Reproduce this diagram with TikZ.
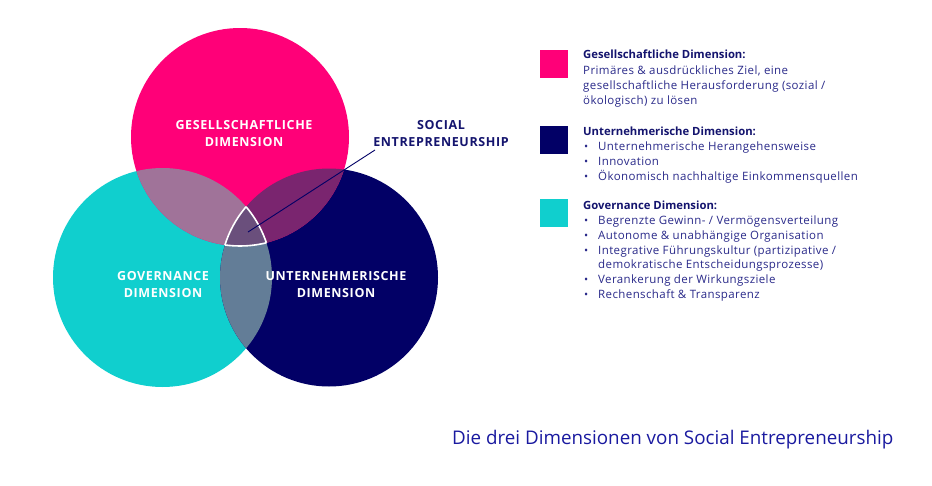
\documentclass[tikz,border=0pt]{standalone}
\usepackage{fontspec}
\setmainfont{Open Sans}
\definecolor{cpink}{HTML}{FF0078}
\definecolor{cnavy}{HTML}{020066}
\definecolor{ccyan}{HTML}{10CFCE}
\definecolor{cPC}{HTML}{A07399}
\definecolor{cPN}{HTML}{7A256F}
\definecolor{cCN}{HTML}{637D97}
\definecolor{cPCN}{HTML}{6A4F7C}
\definecolor{ctitle}{HTML}{14146E}
\definecolor{ctext}{HTML}{2A2A8A}
\definecolor{ccap}{HTML}{1A1AA0}
\tikzset{
  circlabel/.style={text=white, font=\fontsize{12.5}{17}\selectfont\bfseries\addfontfeature{LetterSpace=5}, align=center, inner sep=0pt},
  selabel/.style={text=ctitle, font=\fontsize{12.5}{17}\selectfont\bfseries\addfontfeature{LetterSpace=5}, align=center, inner sep=0pt},
  legtitle/.style={text=ctitle, font=\fontsize{11.3}{15}\selectfont\bfseries, anchor=base west, inner sep=0pt},
  legtext/.style={text=ctext, font=\fontsize{11.5}{15}\selectfont\addfontfeature{LetterSpace=3.5}, anchor=base west, inner sep=0pt},
  bul/.style={text=ctext, font=\fontsize{11}{15}\selectfont, anchor=base west, inner sep=0pt},
  legbox/.style={minimum size=28pt, inner sep=0pt, anchor=north west},
}
\begin{document}
\begin{tikzpicture}[x=1pt,y=-1pt]
\useasboundingbox[fill=white] (0,0) rectangle (932,485);
\def\cP{(240,137) circle (109pt)}
\def\cC{(162.5,277.5) circle (109.5pt)}
\def\cN{(329,277.5) circle (109pt)}
% base circles
\fill[ccyan] \cC;
\fill[cnavy] \cN;
\fill[cpink] \cP;
% pairwise overlaps
\begin{scope}\clip \cP; \fill[cPC] \cC; \fill[cPN] \cN; \end{scope}
\begin{scope}\clip \cC; \fill[cCN] \cN; \end{scope}
% triple overlap
\begin{scope}\clip \cP; \clip \cC; \fill[cPCN] \cN; \end{scope}
% white outline of triple region
\begin{scope}\clip \cP; \clip \cC; \draw[white, line width=1.6pt] \cN; \end{scope}
\begin{scope}\clip \cP; \clip \cN; \draw[white, line width=1.6pt] \cC; \end{scope}
\begin{scope}\clip \cC; \clip \cN; \draw[white, line width=1.6pt] \cP; \end{scope}
% circle labels
\node[circlabel] (lp) at (244,134) {GESELLSCHAFTLICHE\\DIMENSION};
\node[circlabel] (lc) at (163,285) {GOVERNANCE\\DIMENSION};
\node[circlabel] (ln) at (336,285) {UNTERNEHMERISCHE\\DIMENSION};
% social entrepreneurship label and pointer
\node[selabel] (se) at (441,134) {SOCIAL\\ENTREPRENEURSHIP};
\coordinate (sept) at (248,232);
\coordinate (seend) at (375,150);
\draw[cnavy, line width=0.9pt] (sept) -- (seend);
% legend
\node[legbox, fill=cpink] (bp) at (540,50) {};
\node[legbox, fill=cnavy] (bn) at (540,126) {};
\node[legbox, fill=ccyan] (bc) at (540,199) {};

\node[legtitle] (t1) at (583,58) {Gesellschaftliche Dimension:};
\node[legtext] (t1a) at (583,74) {Primäres \& ausdrückliches Ziel, eine};
\node[legtext] (t1b) at (583,89) {gesellschaftliche Herausforderung (sozial /};
\node[legtext] (t1c) at (583,104) {ökologisch) zu lösen};

\node[legtitle] (t2) at (583,135) {Unternehmerische Dimension:};
\node[bul] (b2a) at (584,150) {•};
\node[legtext] (t2a) at (598,150) {Unternehmerische Herangehensweise};
\node[bul] (b2b) at (584,165) {•};
\node[legtext] (t2b) at (598,165) {Innovation};
\node[bul] (b2c) at (584,180) {•};
\node[legtext] (t2c) at (598,180) {Ökonomisch nachhaltige Einkommensquellen};

\node[legtitle] (t3) at (583,209) {Governance Dimension:};
\node[bul] (b3a) at (584,224) {•};
\node[legtext] (t3a) at (598,224) {Begrenzte Gewinn- / Vermögensverteilung};
\node[bul] (b3b) at (584,239) {•};
\node[legtext] (t3b) at (598,239) {Autonome \& unabhängige Organisation};
\node[bul] (b3c) at (584,254) {•};
\node[legtext] (t3c) at (598,254) {Integrative Führungskultur (partizipative /};
\node[legtext] (t3d) at (598,268) {demokratische Entscheidungsprozesse)};
\node[bul] (b3e) at (584,283) {•};
\node[legtext] (t3e) at (598,283) {Verankerung der Wirkungsziele};
\node[bul] (b3f) at (584,298) {•};
\node[legtext] (t3f) at (598,298) {Rechenschaft \& Transparenz};

% caption
\node[text=ccap, font=\fontsize{18.8}{22}\selectfont, anchor=base west, inner sep=0pt] (cap) at (452,444) {Die drei Dimensionen von Social Entrepreneurship};
\end{tikzpicture}
\end{document}
